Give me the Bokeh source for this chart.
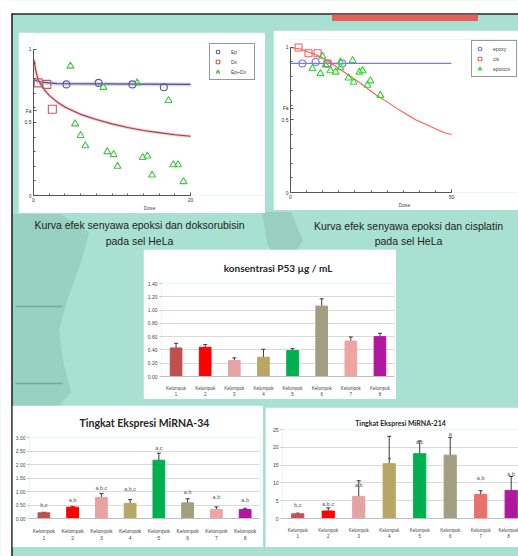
import numpy as np
from bokeh.plotting import figure
from bokeh.models import (Range1d, FixedTicker, Legend, LegendItem, Whisker,
                          TeeHead, ColumnDataSource, GridBox)
from bokeh.core.properties import value
from bokeh.embed import file_html
from bokeh.resources import INLINE

# ---------------- data ----------------
# Chart 1: epoxy compound + doxorubicin (HeLa)
ep_dose = [4.2, 8.3, 12.6, 16.6]
ep_fa = [0.76, 0.77, 0.76, 0.74]
ep_fit_dose = [0.0, 1.0, 3.0, 20.0]
ep_fit_fa = [0.79, 0.775, 0.765, 0.76]
dx_dose = [0.6, 1.7, 2.4]
dx_fa = [0.77, 0.76, 0.59]
dx_fit_dose = [0.05, 0.3, 0.6, 1, 1.5, 2, 3, 4, 5, 6, 8, 10, 12, 14, 16, 18, 20]
dx_fit_fa = [0.93, 0.85, 0.79, 0.755, 0.715, 0.685, 0.64, 0.605, 0.58, 0.555,
             0.52, 0.49, 0.465, 0.445, 0.43, 0.415, 0.405]
epdx_dose = [4.7, 8.9, 13.2, 17.2, 5.3, 6.0, 6.6, 9.4, 10.2, 10.7, 13.9, 14.5,
             15.1, 17.8, 18.4, 19.1]
epdx_fa = [0.885, 0.74, 0.77, 0.65, 0.49, 0.41, 0.34, 0.30, 0.28, 0.20, 0.26,
           0.27, 0.14, 0.21, 0.21, 0.095]

# Chart 2: epoxy compound + cisplatin (HeLa)
epo_dose = [3.7, 7.8, 11.5, 16.1]
epo_fa = [0.89, 0.90, 0.89, 0.89]
epo_fit_dose = [0.0, 50.0]
epo_fit_fa = [0.89, 0.89]
cis_dose = [2.5, 5.6, 8.4, 11.5]
cis_fa = [1.0, 0.96, 0.96, 0.89]
cis_fit_dose = [0, 3, 6, 9, 12, 15, 18, 21, 24, 27, 30, 33, 36, 39, 42, 45, 48, 50]
cis_fit_fa = [1.0, 0.99, 0.965, 0.94, 0.90, 0.855, 0.81, 0.765, 0.715, 0.665,
              0.625, 0.58, 0.54, 0.50, 0.47, 0.44, 0.41, 0.40]
epcis_dose = [6.8, 9.3, 9.9, 10.9, 12.4, 14.0, 15.5, 15.5, 18.0, 19.3, 19.6,
              21.4, 22.4, 23.9, 24.8, 27.9]
epcis_fa = [0.855, 0.82, 0.94, 0.88, 0.84, 0.83, 0.90, 0.86, 0.79, 0.91, 0.76,
            0.83, 0.84, 0.74, 0.77, 0.67]

groups = ["1", "2", "3", "4", "5", "6", "7", "8"]
group_word = "Kelompok"

# P53 concentration (ug/mL)
p53_val = [0.43, 0.44, 0.24, 0.29, 0.39, 1.06, 0.535, 0.60]
p53_err = [0.07, 0.04, 0.04, 0.12, 0.03, 0.11, 0.06, 0.05]
p53_ticks = [0.0, 0.2, 0.4, 0.6, 0.8, 1.0, 1.2, 1.4]

# miRNA-34 expression
mi34_val = [0.21, 0.42, 0.78, 0.56, 2.16, 0.58, 0.33, 0.33]
mi34_err = [0.02, 0.03, 0.15, 0.14, 0.26, 0.15, 0.10, 0.05]
mi34_sig = ["b,c", "a,b", "a,b,c", "a,b,c", "a,c", "a,b", "a,b", "a,b"]
mi34_sig_y = [0.51, 0.68, 1.12, 1.09, 2.60, 1.00, 0.81, 0.68]
mi34_ticks = [0.0, 0.5, 1.0, 1.5, 2.0, 2.5, 3.0]

# miRNA-214 expression
mi214_val = [1.3, 2.1, 6.2, 15.4, 18.2, 17.8, 6.8, 7.9]
mi214_err = [0.2, 0.9, 4.4, 7.7, 3.6, 5.0, 1.0, 3.9]
mi214_sig = ["b,c", "a,b,c", "a,b", "a", "a,c", "a", "a,b", "a,b"]
mi214_sig_y = [3.75, 4.0, 9.4, 17.1, 21.6, 23.8, 11.5, 12.4]
mi214_ticks = [0, 5, 10, 15, 20, 25]

bar_colors = ["#c0504d", "#ff0000", "#e6a3a3", "#b8a664", "#00b050", "#a39e82",
              "#f0a3a3", "#b0179e"]
bar_colors_214 = ["#c9504d", "#ff0000", "#e6a3a3", "#b8a664", "#00b050", "#a39e82",
                  "#e8716e", "#b0179e"]

TEAL = "#a8e1d1"
FONT = value("Liberation Sans")


# ---------------- background ----------------
bg = figure(width=518, height=556, x_range=Range1d(0, 518), y_range=Range1d(556, 0),
            output_backend="svg", toolbar_location=None, min_border=0,
            x_axis_location=None, y_axis_location=None)
bg.grid.visible = False
bg.outline_line_color = None
bg.background_fill_color = TEAL
bg.border_fill_color = "white"
bg.patch([12, 60, 88, 80, 66, 58, 62, 70, 58, 12],
         [214, 214, 232, 262, 300, 330, 360, 392, 405, 405],
         color="#96cfbf", alpha=0.9)
bg.patch([262, 290, 302, 286, 268], [212, 212, 240, 262, 246], color="#94cbbb", alpha=0.8)
bg.segment([15, 15], [306, 383], [62, 62], [306, 383], line_color="#74ad9d", line_width=1.5)
bg.quad(left=[0, 0], right=[518, 11], top=[0, 0], bottom=[13, 556], color="white")
bg.segment([11, 11.5], [13.5, 13], [518, 11.5], [13.5, 556], line_color="#262626", line_width=1.6)
bg.quad(left=[332], right=[477], top=[14.5], bottom=[20], color="#e0625a")
bg.text(x=[139, 139], y=[224, 240],
        text=["Kurva efek senyawa epoksi dan doksorubisin", "pada sel HeLa"],
        text_font=FONT, text_font_size="10.5px", text_align="center",
        text_baseline="middle", text_color="#222222")
bg.text(x=[408, 408], y=[225, 240],
        text=["Kurva efek senyawa epoksi dan cisplatin", "pada sel HeLa"],
        text_font=FONT, text_font_size="10.5px", text_align="center",
        text_baseline="middle", text_color="#222222")


# ---------------- Fa vs dose charts ----------------
def fa_fig(w, h, xmax, xend, yend, bl, bt, bb, xminor):
    p = figure(width=w, height=h, x_range=Range1d(0, xend), y_range=Range1d(0, yend),
               output_backend="svg", toolbar_location=None,
               min_border_left=bl, min_border_right=0, min_border_top=bt,
               min_border_bottom=bb)
    p.background_fill_color = "white"
    p.border_fill_color = "white"
    p.outline_line_color = None
    p.grid.visible = False
    for ax in (p.xaxis, p.yaxis):
        ax.axis_line_color = "#555555"
        ax.major_tick_line_color = "#555555"
        ax.minor_tick_line_color = "#555555"
        ax.major_tick_in = 3
        ax.major_tick_out = 0
        ax.minor_tick_in = 2
        ax.minor_tick_out = 0
        ax.major_label_text_font = "Liberation Sans"
        ax.major_label_text_font_size = "5px"
        ax.major_label_text_color = "#333333"
        ax.major_label_standoff = 2
    p.xaxis.bounds = (0, xmax)
    p.yaxis.bounds = (0, 1)
    p.xaxis.ticker = FixedTicker(ticks=[0, xmax], minor_ticks=xminor)
    p.yaxis.ticker = FixedTicker(ticks=[0, 0.5, 0.58, 1],
                                 minor_ticks=[0.1, 0.2, 0.3, 0.4, 0.6, 0.7, 0.8, 0.9])
    p.yaxis.major_label_overrides = {0: "0", 0.5: "0.5", 0.58: "Fa", 1: "1"}
    p.xaxis.axis_label = "Dose"
    p.xaxis.axis_label_text_font = "Liberation Sans"
    p.xaxis.axis_label_text_font_size = "5px"
    p.xaxis.axis_label_text_font_style = "normal"
    p.xaxis.axis_label_standoff = 0
    return p


def fa_legend(p, items, margin):
    lg = Legend(items=items, location="top_right", label_text_font_size="5px",
                label_text_font="Liberation Sans", glyph_height=9, glyph_width=9,
                label_height=9, spacing=1, padding=3, margin=margin, label_standoff=9,
                border_line_color="#333333", border_line_width=1.2,
                background_fill_alpha=1)
    p.add_layout(lg)


# white box 247x181; axis x 0..20 over 157px, y 0..1 over 148px
p1 = fa_fig(247, 181, 20, 29.55, 1.108, 15, 1, 16, [2, 4, 6, 8, 10, 12, 14, 16, 18])
p1.line(ep_fit_dose, ep_fit_fa, line_color="#c8c8dc", line_width=4, line_alpha=0.7)
p1.line(ep_fit_dose, ep_fit_fa, line_color="#4b4b9c", line_width=1.2)
p1.line(dx_fit_dose, dx_fit_fa, line_color="#e6a8b0", line_width=3, line_alpha=0.6)
p1.line(dx_fit_dose, dx_fit_fa, line_color="#b03848", line_width=1.1)
r_ep = p1.scatter(ep_dose, ep_fa, marker="circle", size=7, fill_color=None,
                  line_color="#5656a8", line_width=1.1)
r_dx = p1.scatter(dx_dose, dx_fa, marker="square", size=8, fill_color=None,
                  line_color="#c65a5a", line_width=1.1)
r_epdx = p1.scatter(epdx_dose, epdx_fa, marker="triangle", size=7, fill_color=None,
                    line_color="#44c444", line_width=1.1)
fa_legend(p1, [LegendItem(label="Ep", renderers=[r_ep]),
               LegendItem(label="Dx", renderers=[r_dx]),
               LegendItem(label="Ep+Dx", renderers=[r_epdx])], 10)

# white box 245x180; axis x 0..50 over 161px, y 0..1 over 146px
p2 = fa_fig(245, 180, 50, 70.8, 1.055, 17, 9, 17, [5, 10, 15, 20, 25, 30, 35, 40, 45])
p2.line(epo_fit_dose, epo_fit_fa, line_color="#7878ff", line_width=1.2)
p2.line(cis_fit_dose, cis_fit_fa, line_color="#ff5a5a", line_width=1.1)
r_epo = p2.scatter(epo_dose, epo_fa, marker="circle", size=7, fill_color=None,
                   line_color="#6f6fff", line_width=1.1)
r_cis = p2.scatter(cis_dose, cis_fa, marker="square", size=7, fill_color=None,
                   line_color="#ff5a5a", line_width=1.1)
r_epcis = p2.scatter(epcis_dose, epcis_fa, marker="triangle", size=7, fill_color=None,
                     line_color="#33d633", line_width=1.1)
fa_legend(p2, [LegendItem(label="epoxy", renderers=[r_epo]),
               LegendItem(label="cis", renderers=[r_cis]),
               LegendItem(label="epoxcis", renderers=[r_epcis])], 1)


# ---------------- bar charts ----------------
def bar_fig(w, h, x_end, y_end, bl, br, bt, bb, vals, errs, colors, yticks, ylabel_fmt,
            title, title_size, title_standoff, ylab_size, xlab_size, bar_w):
    p = figure(width=w, height=h, x_range=Range1d(0, x_end), y_range=Range1d(0, y_end),
               output_backend="svg", toolbar_location=None,
               min_border_left=bl, min_border_right=br, min_border_top=bt,
               min_border_bottom=bb)
    p.background_fill_color = "white"
    p.border_fill_color = "white"
    p.outline_line_color = None
    p.title.text = title
    p.title.align = "center"
    p.title.text_font = "Lato"
    p.title.text_font_style = "bold"
    p.title.text_font_size = title_size
    p.title.text_color = "#262626"
    p.title.standoff = title_standoff
    pos = np.arange(len(vals)) + 0.5
    upper = [v + e for v, e in zip(vals, errs)]
    lower = [v - e for v, e in zip(vals, errs)]
    src = ColumnDataSource(dict(x=pos, top=vals, upper=upper, lower=lower, color=colors))
    p.vbar(x="x", top="top", width=bar_w, color="color", source=src)
    p.add_layout(Whisker(source=src, base="x", upper="upper", lower="lower",
                         line_color="#222222", line_width=0.9,
                         upper_head=TeeHead(size=4, line_color="#222222", line_width=0.9),
                         lower_head=TeeHead(size=4, line_color="#222222", line_width=0.9)))
    p.xgrid.visible = False
    p.ygrid.ticker = FixedTicker(ticks=yticks)
    p.ygrid.grid_line_color = "#d9d9d9"
    p.yaxis.ticker = FixedTicker(ticks=yticks)
    p.yaxis.major_label_overrides = {t: ylabel_fmt.format(t) for t in yticks}
    p.yaxis.axis_line_color = None
    p.yaxis.major_tick_line_color = "#bbbbbb"
    p.yaxis.major_tick_out = 2
    p.yaxis.major_tick_in = 0
    p.yaxis.minor_tick_line_color = None
    p.yaxis.major_label_text_font = "Liberation Sans"
    p.yaxis.major_label_text_font_size = ylab_size
    p.yaxis.major_label_text_color = "#444444"
    p.yaxis.major_label_standoff = 2
    p.xaxis.ticker = FixedTicker(ticks=list(pos))
    p.xaxis.major_label_overrides = {float(x): group_word + "\n" + g for x, g in zip(pos, groups)}
    p.xaxis.axis_line_color = "#bfbfbf"
    p.xaxis.major_tick_line_color = None
    p.xaxis.minor_tick_line_color = None
    p.xaxis.major_label_text_font = "Liberation Sans"
    p.xaxis.major_label_text_font_size = xlab_size
    p.xaxis.major_label_text_color = "#444444"
    p.xaxis.major_label_standoff = 3
    return p, pos


p53, _ = bar_fig(253, 150, 8, 1.4, 18, 2, 33, 21, p53_val, p53_err, bar_colors, p53_ticks,
                 "{:.2f}", "konsentrasi P53 \u00b5g / mL", "10px", 20, "5px", "4.5px", 0.4)

mi34, pos34 = bar_fig(251, 142, 8, 3.0, 15, 4, 32, 29, mi34_val, mi34_err, bar_colors,
                      mi34_ticks, "{:.2f}", "Tingkat Ekspresi MiRNA-34", "10.5px", 17,
                      "5px", "5px", 0.41)
mi34.text(pos34, mi34_sig_y, text=mi34_sig, text_font=FONT, text_font_size="5.5px",
          text_align="center", text_baseline="middle", text_color="#555555")

mi214, pos214 = bar_fig(253, 140, 7.74, 25, 17, 0, 22, 25, mi214_val, mi214_err,
                        bar_colors_214, mi214_ticks, "{:d}", "Tingkat Ekspresi MiRNA-214",
                        "7px", 5, "5px", "4.5px", 0.4)
mi214.text(pos214, mi214_sig_y, text=mi214_sig, text_font=FONT, text_font_size="5.5px",
           text_align="center", text_baseline="middle", text_color="#555555")

# ---------------- layout ----------------
cols = ["12px", "6px", "125px", "120px", "2px", "8px", "123px", "122px"]
rows = ["30px", "2px", "178px", "3px", "36px", "150px", "6px", "2px", "140px", "9px"]
grid = GridBox(children=[(bg, 0, 0, 10, 8),
                         (p1, 2, 2, 2, 3),
                         (p2, 1, 6, 2, 2),
                         (p53, 5, 3, 1, 4),
                         (mi34, 7, 1, 2, 3),
                         (mi214, 8, 5, 1, 3)],
               cols=cols, rows=rows, spacing=0, width=518, height=556)

open("out.html", "w").write(file_html(grid, INLINE))
